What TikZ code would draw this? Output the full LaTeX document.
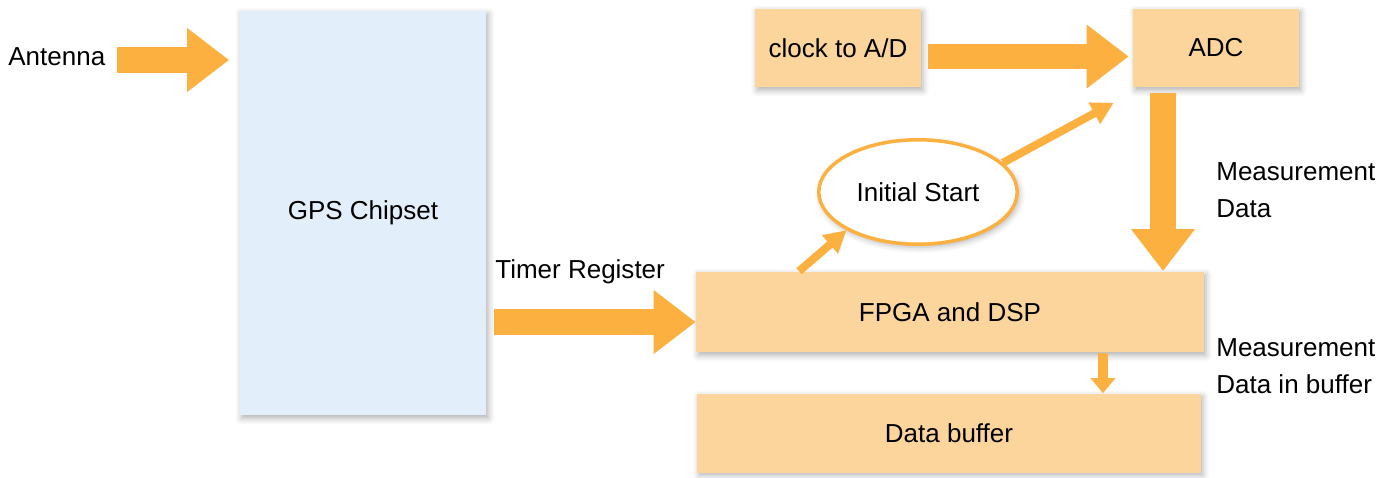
\documentclass[tikz,border=0pt]{standalone}
\usepackage{fontspec}
\setmainfont{Liberation Sans}
\usetikzlibrary{shapes.geometric, arrows.meta, shadows.blur}
\definecolor{boxorange}{HTML}{FCD59D}
\definecolor{arroworange}{HTML}{FBB040}
\definecolor{chipblue}{HTML}{E2EEF9}
\tikzstyle{chip} = [rectangle, minimum width=4.94cm, minimum height=8.1cm, text centered, fill=chipblue, blur shadow={shadow xshift=0.4mm, shadow yshift=-0.6mm, shadow blur radius=1.2mm, shadow opacity=30}]
\tikzstyle{block} = [rectangle, minimum height=1.58cm, text centered, fill=boxorange, blur shadow={shadow xshift=0.4mm, shadow yshift=-0.6mm, shadow blur radius=1.2mm, shadow opacity=30}]
\tikzstyle{oval} = [ellipse, minimum width=3.97cm, minimum height=2.09cm, inner sep=0pt, draw=arroworange, line width=0.07cm, fill=white, blur shadow={shadow xshift=0.4mm, shadow yshift=-0.6mm, shadow blur radius=1.2mm, shadow opacity=30}]
\tikzstyle{note} = [inner sep=0pt, align=left]
\tikzstyle{fat} = [arroworange, line width=0.51cm, -{Triangle[width=1.22cm, length=0.84cm]}]
\tikzstyle{slim} = [arroworange, line width=0.2cm, -{Triangle[width=0.48cm, length=0.3cm]}]
\tikzstyle{thin} = [arroworange, line width=0.16cm, -{Triangle[width=0.46cm, length=0.44cm]}]

\begin{document}
\begin{tikzpicture}[x=0.02cm, y=-0.02cm, every node/.style={font=\fontsize{14.8}{21}\selectfont}]
\useasboundingbox (0,0) rectangle (1396,477);
\node (gps) [chip] at (363,213) {GPS Chipset};
\node (clk) [block, minimum width=3.32cm] at (838,48) {clock to A/D};
\node (adc) [block, minimum width=3.32cm] at (1216,48) {ADC};
\node (fpga) [block, minimum width=10.16cm, minimum height=1.62cm] at (950,312) {FPGA and DSP};
\node (buf) [block, minimum width=10.08cm] at (949,433) {Data buffer};
\node (init) [oval] at (918,192) {Initial Start};
\node (ant) [note, anchor=west] at (8,57) {Antenna};
\node (tmr) [note, anchor=west] at (495,272) {Timer Register};
\node (meas) [note, anchor=west] at (1216,190) {Measurement\\Data};
\node (measbuf) [note, anchor=west] at (1216,366) {Measurement\\Data in buffer};

\draw [fat, shorten <=0.22cm, shorten >=0.2cm] ([yshift=-0.06cm]ant.east) -- ([yshift=-0.06cm]ant.east -| gps.west);
\draw [fat, shorten <=0.14cm, shorten >=0.08cm] ([yshift=-0.17cm]clk.east) -- ([yshift=-0.17cm]clk.east -| adc.west);
\draw [fat, shorten <=0.1cm] ([xshift=-1.06cm]adc.south) -- ([xshift=-1.06cm]adc.south |- fpga.north);
\draw [fat, shorten <=0.14cm] ([yshift=-0.2cm]fpga.west -| gps.east) -- ([yshift=-0.2cm]fpga.west);
\draw [slim] ([xshift=3.06cm]fpga.south) -- ([xshift=3.06cm]fpga.south |- buf.north);
\draw [thin] ([xshift=-3.02cm]fpga.north) -- (init.south west);
\draw [thin] (init.19) -- ([shift={(-0.38cm,-0.3cm)}]adc.south west);
\end{tikzpicture}
\end{document}
